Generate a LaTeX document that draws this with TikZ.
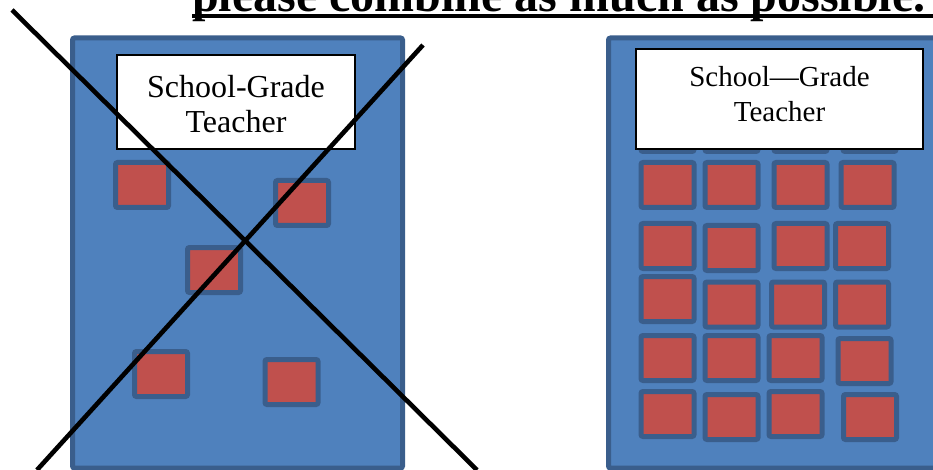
\documentclass[tikz,border=0pt]{standalone}
\usepackage{fontspec}
\setmainfont{Liberation Serif}
\definecolor{pblue}{HTML}{4F81BD}
\definecolor{pborder}{HTML}{3A5E8C}
\definecolor{pred}{HTML}{C0504D}
\tikzset{
  panel/.style={draw=pborder, fill=pblue, line width=5pt, rounded corners=2pt},
  seat/.style={draw=pborder, fill=pred, line width=5pt, rounded corners=2pt,
    minimum width=53pt, minimum height=45pt, inner sep=0pt},
  whitebox/.style={draw=black, fill=white, line width=2pt, inner sep=0pt},
  crossline/.style={draw=black, line width=4.6pt},
  ulinestyle/.style={draw=black, line width=4pt}
}
\begin{document}
\begin{tikzpicture}[x=1pt,y=-1pt]
\useasboundingbox (0,0) rectangle (933,470);
\begin{scope}
\clip (0,0) rectangle (933,470);
% title
\node[anchor=base west, inner sep=0pt, font=\fontsize{48}{50}\selectfont\bfseries] (title) at (192,11.5) {please combine as much as possible.};
\coordinate (ulA) at (192,16);
\coordinate (ulB) at (933,16);
\draw[ulinestyle] (ulA) -- (ulB);
% left panel
\node[panel, minimum width=330pt, minimum height=430pt, inner sep=0pt] (lpanel) at (237.5,253) {};
\node[seat] (l1) at (142,185) {};
\node[seat] (l2) at (302,203) {};
\node[seat] (l3) at (214,270) {};
\node[seat] (l4) at (161,374) {};
\node[seat] (l5) at (291.5,382) {};
\node[whitebox, minimum width=238pt, minimum height=94pt] (lbox) at (236,102) {};
\node[align=center, inner sep=0pt, font=\fontsize{32}{35}\selectfont] (ltext) at (236,104.5) {School-Grade\\Teacher};
% right panel
\node[panel, minimum width=340pt, minimum height=430pt, inner sep=0pt] (rpanel) at (778.5,253) {};
% row 0 (behind the label)
\node[seat] (r01) at (667.5,129) {};
\node[seat] (r02) at (731.5,129) {};
\node[seat] (r03) at (800.5,129) {};
\node[seat] (r04) at (869.5,129) {};
% row 1
\node[seat] (r11) at (667.5,185) {};
\node[seat] (r12) at (731.5,185) {};
\node[seat] (r13) at (800.5,185) {};
\node[seat] (r14) at (867.5,185) {};
% row 2
\node[seat] (r21) at (667.5,246) {};
\node[seat] (r22) at (731.5,248) {};
\node[seat] (r23) at (800.5,246) {};
\node[seat] (r24) at (862,246) {};
% row 3
\node[seat] (r31) at (667.5,299) {};
\node[seat] (r32) at (731.5,304.5) {};
\node[seat] (r33) at (798,304.5) {};
\node[seat] (r34) at (862,304.5) {};
% row 4
\node[seat] (r41) at (667.5,358) {};
\node[seat] (r42) at (731.5,358) {};
\node[seat] (r43) at (795.5,358) {};
\node[seat] (r44) at (864.5,361) {};
% row 5
\node[seat] (r51) at (667.5,414) {};
\node[seat] (r52) at (731.5,417) {};
\node[seat] (r53) at (795.5,414) {};
\node[seat] (r54) at (870,417) {};
\node[whitebox, minimum width=287pt, minimum height=100pt] (rbox) at (779.5,99) {};
\node[align=center, inner sep=0pt, font=\fontsize{29}{35}\selectfont] (rtext) at (779.5,94.5) {School---Grade\\Teacher};
% cross
\coordinate (xa1) at (12,10);
\coordinate (xa2) at (477,470);
\coordinate (xb1) at (423,45);
\coordinate (xb2) at (37,470);
\draw[crossline] (xa1) -- (xa2);
\draw[crossline] (xb1) -- (xb2);
\end{scope}
\end{tikzpicture}
\end{document}
